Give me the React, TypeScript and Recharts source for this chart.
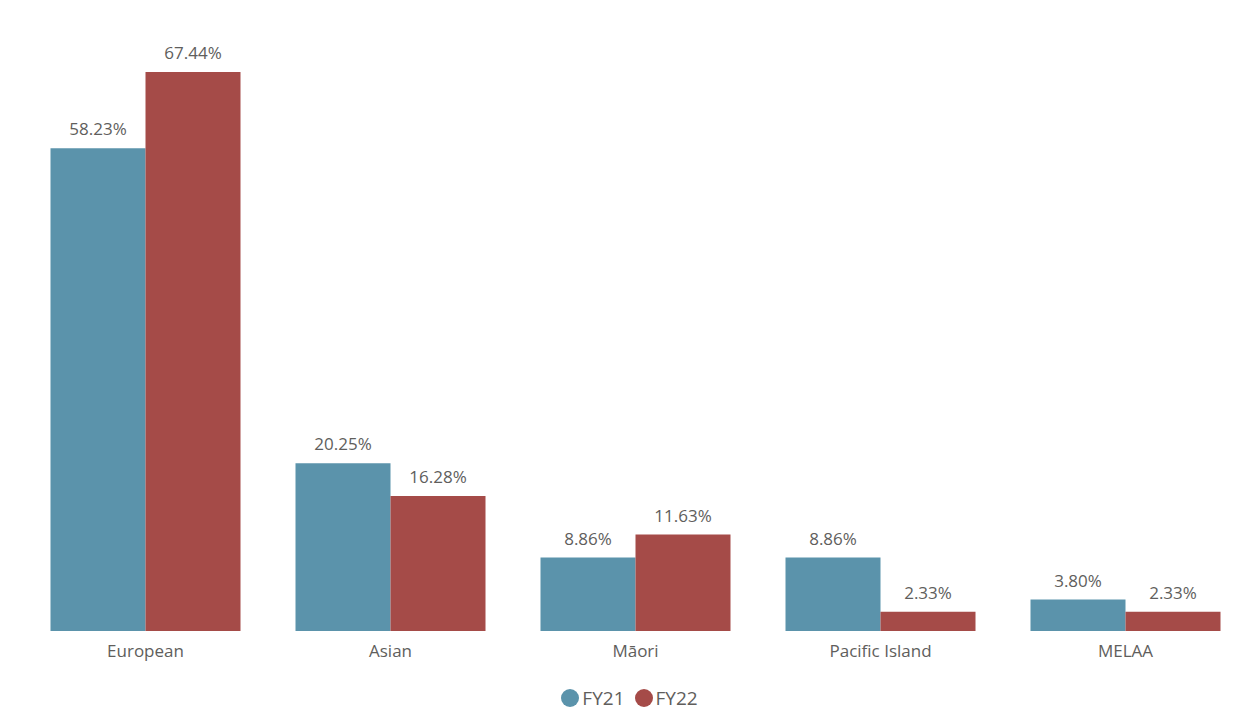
import { Bar, BarChart, XAxis, YAxis, Legend, LabelList } from "recharts";

const categories = ["European", "Asian", "Māori", "Pacific Island", "MELAA"];
const fy21 = [58.23, 20.25, 8.86, 8.86, 3.8];
const fy22 = [67.44, 16.28, 11.63, 2.33, 2.33];
const seriesNames = ["FY21", "FY22"];
const colors = ["#5B93AB", "#A54B48"];

const data = categories.map((name, i) => ({
  name,
  FY21: fy21[i],
  FY22: fy22[i],
}));

const textColor = "#605E5C";
const font = "'Open Sans', sans-serif";

function LegendContent() {
  return (
    <div
      style={{
        height: 50,
        display: "flex",
        justifyContent: "center",
        alignItems: "center",
        fontFamily: font,
        fontSize: 19,
        color: textColor,
        paddingTop: 24,
        paddingRight: 12,
        boxSizing: "border-box",
      }}
    >
      {seriesNames.map((s, i) => (
        <span
          key={s}
          style={{ display: "inline-flex", alignItems: "center", marginRight: i === 0 ? 10 : 0 }}
        >
          <span
            style={{
              width: 18,
              height: 18,
              borderRadius: "50%",
              background: colors[i],
              display: "inline-block",
              marginRight: 3,
            }}
          />
          {s}
        </span>
      ))}
    </div>
  );
}

export default function App() {
  return (
    <div style={{ position: "absolute", left: 0, top: 0, width: 1257, height: 711, background: "#fff" }}>
      <BarChart
        width={1257}
        height={711}
        data={data}
        margin={{ top: 72, right: 9, left: 23, bottom: 0 }}
        barCategoryGap={27.5}
        barGap={0}
      >
        <XAxis
          dataKey="name"
          height={30}
          tickLine={false}
          axisLine={false}
          tick={{ fill: textColor, fontSize: 17, fontFamily: font }}
          tickMargin={8}
          interval={0}
        />
        <YAxis hide domain={[0, "dataMax"]} />
        <Legend verticalAlign="bottom" content={<LegendContent />} wrapperStyle={{ height: 50 }} />
        {seriesNames.map((s, i) => (
          <Bar key={s} dataKey={s} fill={colors[i]} isAnimationActive={false}>
            <LabelList
              dataKey={s}
              position="top"
              offset={13}
              formatter={(v: number) => `${v.toFixed(2)}%`}
              style={{ fill: textColor, fontSize: 17, fontFamily: font }}
            />
          </Bar>
        ))}
      </BarChart>
    </div>
  );
}
